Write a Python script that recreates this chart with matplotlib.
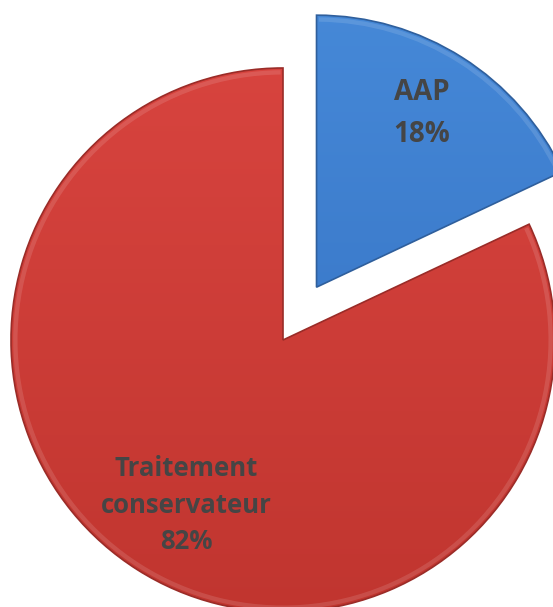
import numpy as np
import matplotlib
matplotlib.use('Agg')
import matplotlib.pyplot as plt
from matplotlib.colors import LinearSegmentedColormap
from matplotlib.patches import Wedge

labels = ['AAP', 'Traitement\nconservateur']
shares = [18, 82]
explode = [0.23, 0.0]
colors_top = ['#4689d8', '#d8443f']
colors_bottom = ['#336fc0', '#c0352f']
edge_colors = ['#2f5f9c', '#9a2c28']

plt.rcParams['font.family'] = ['Open Sans', 'DejaVu Sans']

W, H = 553, 607
fig = plt.figure(figsize=(W / 100, H / 100), dpi=100)
ax = fig.add_axes([0, 0, 1, 1])

label_text = [f'{lab}\n{val}%' for lab, val in zip(labels, shares)]
wedges, texts = ax.pie(shares, labels=label_text, explode=explode,
                       startangle=90, counterclock=False,
                       colors=colors_top, labeldistance=0.72,
                       wedgeprops=dict(edgecolor='none'),
                       textprops=dict(color='#454545', fontweight='bold',
                                      fontsize=18.5, linespacing=1.45))

# vertical shading inside each wedge plus a thin darker rim
grad = np.linspace(0, 1, 256).reshape(-1, 1)
for w, c0, c1, ec in zip(wedges, colors_top, colors_bottom, edge_colors):
    cmap = LinearSegmentedColormap.from_list('shade', [c1, c0])
    cx, cy = w.center
    im = ax.imshow(grad, cmap=cmap, origin='lower', aspect='auto',
                   extent=(cx - 1.05, cx + 1.05, cy - 1.05, cy + 1.05),
                   zorder=w.get_zorder() + 0.1)
    im.set_clip_path(w)
    rim = Wedge((cx, cy), w.r, w.theta1, w.theta2, fill=False,
                edgecolor=ec, linewidth=1.2, zorder=w.get_zorder() + 0.2)
    ax.add_patch(rim)
    hl = Wedge((cx, cy), w.r - 0.008, w.theta1 + 0.5, w.theta2 - 0.5,
               width=0.016, facecolor='white', alpha=0.12,
               edgecolor='none', zorder=w.get_zorder() + 0.15)
    ax.add_patch(hl)

for t in texts:
    t.set_ha('center')
    t.set_va('center')
    t.set_zorder(5)
texts[0].set_fontsize(20)
texts[0].set_linespacing(1.6)
x0, y0 = texts[0].get_position()
texts[0].set_position((x0, y0 + 0.03))
x1, y1 = texts[1].get_position()
texts[1].set_position((x1 + 0.03, y1))

# place the pie centre at (283, 340) px with radius 272 px
cx_px, cy_px, r_px = 283, 340, 272
ax.set_xlim(-cx_px / r_px, (W - cx_px) / r_px)
ax.set_ylim(-(H - cy_px) / r_px, cy_px / r_px)
ax.set_aspect('auto')
ax.axis('off')

fig.savefig('out.png', dpi=100)
